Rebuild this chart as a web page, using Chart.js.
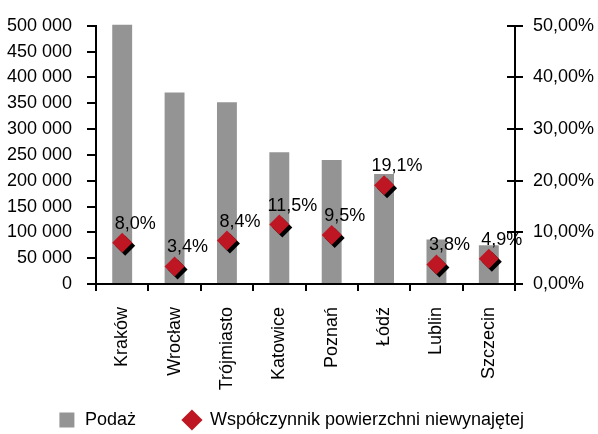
<!DOCTYPE html>
<html lang="pl">
<head>
<meta charset="utf-8">
<title>Podaż i współczynnik pustostanów</title>
<script src="https://cdn.jsdelivr.net/npm/chart.js@4.4.1/dist/chart.umd.min.js"></script>
<style>
  html, body { margin: 0; padding: 0; background: #fff; }
  #wrap { width: 598px; height: 434px; }
</style>
</head>
<body>
<div id="wrap"><canvas id="officeChart" width="598" height="434"></canvas></div>
<script>
// ── DATA ──
const cities = ['Kraków', 'Wrocław', 'Trójmiasto', 'Katowice', 'Poznań', 'Łódź', 'Lublin', 'Szczecin'];
const supply = [502000, 371000, 352000, 255000, 240000, 213000, 86000, 75000];   // m²
const vacancy = [8.0, 3.4, 8.4, 11.5, 9.5, 19.1, 3.8, 4.9];                        // %
const supplyAxis = [0, 500000, 50000];   // min, max, step
const vacancyAxis = [0, 50, 10];

const seriesNames = ['Podaż', 'Współczynnik powierzchni niewynajętej'];

// ── STYLE ──
const FONT = '"Liberation Sans", Arial, sans-serif';
const GREY = '#949494';
const RED = '#BE1622';
const INK = '#000';

const fmtThousands = v => String(v).replace(/\B(?=(\d{3})+(?!\d))/g, ' ');
const fmtPct = (v, d) => v.toFixed(d).replace('.', ',') + '%';

// black drop shadow under the diamonds
const markerShadow = {
  id: 'markerShadow',
  beforeDatasetDraw(chart, args) {
    if (args.index !== 1) return;
    const ctx = chart.ctx;
    ctx.save();
    ctx.shadowColor = '#000';
    ctx.shadowOffsetX = 3;
    ctx.shadowOffsetY = 3;
    ctx.shadowBlur = 0;
  },
  afterDatasetDraw(chart, args) {
    if (args.index !== 1) return;
    chart.ctx.restore();
  }
};

// percentage labels above each diamond
const valueLabels = {
  id: 'valueLabels',
  afterDatasetsDraw(chart) {
    const meta = chart.getDatasetMeta(1);
    const ctx = chart.ctx;
    ctx.save();
    ctx.font = '18px ' + FONT;
    ctx.fillStyle = INK;
    ctx.textAlign = 'center';
    ctx.textBaseline = 'middle';
    meta.data.forEach((pt, i) => {
      ctx.fillText(fmtPct(vacancy[i], 1), pt.x + 13, pt.y - 19);
    });
    ctx.restore();
  }
};

// right axis ticks cross the axis line
const innerTicks = {
  id: 'innerTicks',
  afterDraw(chart) {
    const s = chart.scales.y2;
    const ctx = chart.ctx;
    ctx.save();
    ctx.strokeStyle = INK;
    ctx.lineWidth = 2;
    s.ticks.forEach((t, i) => {
      const y = Math.round(s.getPixelForTick(i));
      ctx.beginPath();
      ctx.moveTo(s.left - 8, y);
      ctx.lineTo(s.left, y);
      ctx.stroke();
    });
    ctx.restore();
  }
};

// pull the legend row up close under the rotated city names, a bit to the left
const legendLift = {
  id: 'legendLift',
  afterLayout(chart) {
    const lg = chart.legend;
    if (!lg) return;
    lg.top -= 32;
    lg.bottom -= 32;
    lg.left -= 8;
    lg.right -= 8;
  }
};

const tickFont = { family: FONT, size: 18 };

new Chart(document.getElementById('officeChart'), {
  data: {
    labels: cities,
    datasets: [
      {
        type: 'bar',
        label: seriesNames[0],
        data: supply,
        backgroundColor: GREY,
        borderWidth: 0,
        barPercentage: 0.38,
        categoryPercentage: 1,
        yAxisID: 'y',
        clip: false,
        order: 1
      },
      {
        type: 'line',
        label: seriesNames[1],
        data: vacancy,
        showLine: false,
        pointStyle: 'rectRot',
        pointRadius: 10,
        pointBackgroundColor: RED,
        backgroundColor: RED,
        borderColor: RED,
        pointBorderWidth: 0,
        yAxisID: 'y2',
        order: 0
      }
    ]
  },
  options: {
    responsive: false,
    devicePixelRatio: 1,
    animation: false,
    layout: { padding: { top: 23, left: 0, right: 0, bottom: -37 } },
    plugins: {
      tooltip: { enabled: false },
      legend: {
        position: 'bottom',
        labels: {
          usePointStyle: true,
          boxHeight: 15,
          padding: 47,
          color: INK,
          font: { family: FONT, size: 18 },
          generateLabels(chart) {
            const items = Chart.defaults.plugins.legend.labels.generateLabels(chart);
            items.forEach(it => {
              it.pointStyle = it.datasetIndex === 0 ? 'rect' : 'rectRot';
              it.lineWidth = 0;
            });
            return items.sort((a, b) => a.datasetIndex - b.datasetIndex);
          }
        }
      }
    },
    scales: {
      x: {
        offset: true,
        grid: { display: true, offset: true, drawOnChartArea: false, tickLength: 7, color: INK, lineWidth: 2 },
        border: { color: INK, width: 2 },
        ticks: { minRotation: 90, maxRotation: 90, padding: 16, color: INK, font: tickFont, autoSkip: false },
        afterFit(s) { s.height = 112; }
      },
      y: {
        position: 'left',
        min: supplyAxis[0],
        max: supplyAxis[1],
        grid: { display: true, drawOnChartArea: false, tickLength: 9, color: INK, lineWidth: 2 },
        border: { color: INK, width: 2 },
        ticks: { stepSize: supplyAxis[2], padding: 15, color: INK, font: tickFont, callback: v => fmtThousands(v) },
        afterFit(s) { s.width = 96; }
      },
      y2: {
        position: 'right',
        min: vacancyAxis[0],
        max: vacancyAxis[1],
        grid: { display: true, drawOnChartArea: false, tickLength: 8, color: INK, lineWidth: 2 },
        border: { color: INK, width: 2 },
        ticks: { stepSize: vacancyAxis[2], padding: 10, color: INK, font: tickFont, callback: v => fmtPct(v, 2) },
        afterFit(s) { s.width = 83; }
      }
    }
  },
  plugins: [markerShadow, valueLabels, innerTicks, legendLift]
});
</script>
</body>
</html>
